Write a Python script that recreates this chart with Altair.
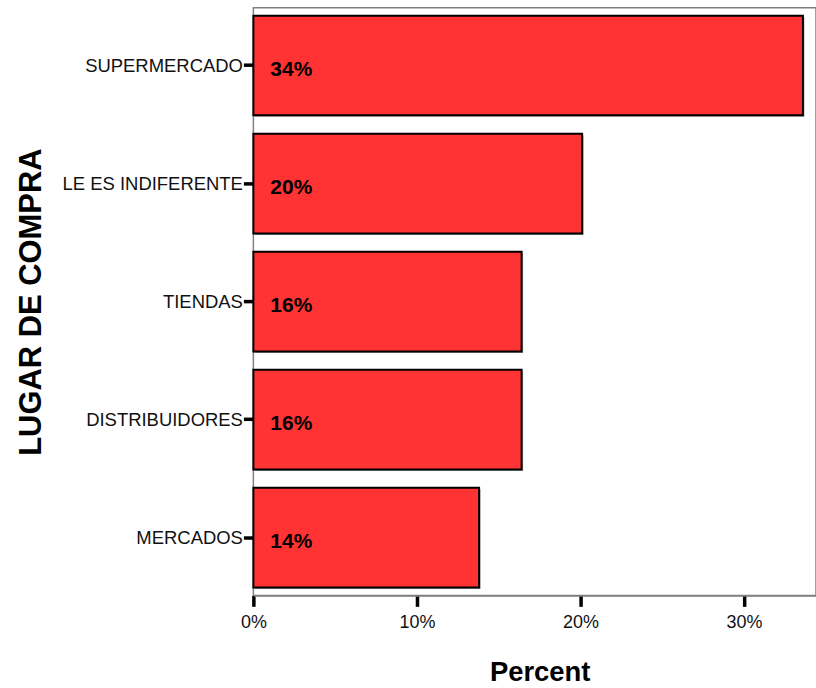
import altair as alt
import pandas as pd

# Purchase location shares (percent of respondents)
lugares = ["SUPERMERCADO", "LE ES INDIFERENTE", "TIENDAS", "DISTRIBUIDORES", "MERCADOS"]
porcentajes = [33.6, 20.1, 16.4, 16.4, 13.8]
ticks_x = [0, 10, 20, 30]

df = pd.DataFrame({"lugar": lugares, "pct": porcentajes})

FONT = "Liberation Sans"
x_scale = alt.Scale(domain=[0, 34.4], nice=False, zero=True)
y_scale = alt.Scale(domain=lugares, paddingInner=0.156, paddingOuter=0.067)

x_enc = alt.X(
    "pct:Q",
    scale=x_scale,
    axis=alt.Axis(
        title="Percent",
        values=ticks_x,
        labelExpr="datum.value + '%'",
        labelFlush=False,
        grid=False,
        domain=True,
        domainColor="#808080",
        domainWidth=1.5,
        tickColor="black",
        tickWidth=3.5,
        tickSize=11,
        labelFont=FONT,
        labelFontSize=18,
        labelColor="#111",
        labelPadding=7,
        titleFont=FONT,
        titleFontSize=27.5,
        titleFontWeight="bold",
        titleColor="black",
        titleX=287,
        titleY=85,
        titleBaseline="alphabetic",
        titleAnchor="middle",
    ),
)
y_enc = alt.Y(
    "lugar:N",
    sort=lugares,
    scale=y_scale,
    axis=alt.Axis(
        title="LUGAR DE COMPRA",
        domain=False,
        grid=False,
        tickColor="black",
        tickWidth=3.5,
        tickSize=10,
        labelFont=FONT,
        labelFontSize=18.5,
        labelColor="#111",
        labelPadding=1,
        labelLimit=300,
        titleFont=FONT,
        titleFontSize=31,
        titleFontWeight="bold",
        titleColor="black",
        titleAngle=270,
        titleX=-213,
        titleBaseline="alphabetic",
    ),
)

base = alt.Chart(df)

# soft drop shadow behind each bar
shadow = base.mark_bar(color="#8c8c8c", xOffset=1.5, yOffset=1.5, opacity=0.8).encode(
    x=x_enc,
    y=y_enc,
)

bars = base.mark_bar(color="#ff3333", stroke="black", strokeWidth=2).encode(
    x=x_enc,
    y=y_enc,
)

labels = base.transform_calculate(
    etiqueta="format(datum.pct, '.0f') + '%'"
).mark_text(
    align="left",
    baseline="middle",
    dx=17,
    dy=4,
    font=FONT,
    fontSize=21,
    fontWeight="bold",
    color="black",
).encode(
    x=alt.datum(0, scale=x_scale),
    y=y_enc,
    text="etiqueta:N",
)

chart = (
    alt.layer(shadow, bars, labels)
    .properties(
        width=564,
        height=589,
        autosize=alt.AutoSizeParams(type="none"),
        padding={"left": 254, "top": 7, "right": 0, "bottom": 92},
        background="white",
    )
    .configure_view(stroke="#808080", strokeWidth=1.5)
)

chart.save("out.html", embed_options={"renderer": "svg", "actions": False})
